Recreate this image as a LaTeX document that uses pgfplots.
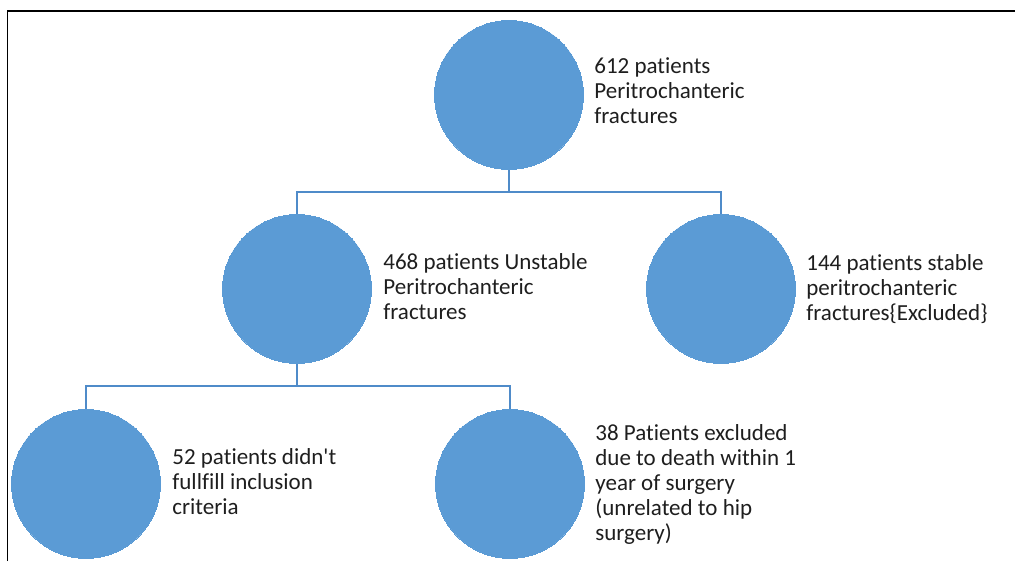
\documentclass[border=0pt]{standalone}
\usepackage{fontspec}
\setmainfont{Carlito}[Ligatures={NoCommon}]
\usepackage{pgfplots}
\pgfplotsset{compat=1.18}
\definecolor{circ}{HTML}{5B9BD5}
\definecolor{conn}{HTML}{4F8BC9}
\definecolor{txt}{HTML}{1E1E1E}
\begin{document}
\begin{tikzpicture}
\begin{axis}[scale only axis, width=507.5pt, height=280.5pt,
  xmin=0, xmax=1015, ymin=0, ymax=561, y dir=reverse, hide axis, clip=false]
% frame
\addplot[black, line width=0.75pt] coordinates {(7.5,561) (7.5,11) (1015,11)};
% connectors
\addplot[conn, line width=1pt] coordinates {(509,168) (509,192)};
\addplot[conn, line width=1pt] coordinates {(297,215) (297,192) (721,192) (721,215)};
\addplot[conn, line width=1pt] coordinates {(297,362) (297,386)};
\addplot[conn, line width=1pt] coordinates {(86,410) (86,386) (510,386) (510,410)};
% circles
\addplot[circ, only marks, mark=*, mark size=37.2pt, mark options={fill=circ, draw=circ, line width=0pt}]
  coordinates {(509,95) (297,289) (721,289) (86,484) (510,484)};
% texts
\tikzset{lbl/.style={anchor=base west, inner sep=0pt, text=txt, font=\fontsize{11.5}{13}\selectfont}}
\node[lbl] at (axis cs:594,74) {612 patients};
\node[lbl] at (axis cs:594,99) {Peritrochanteric};
\node[lbl] at (axis cs:594,124) {fractures};
\node[lbl] at (axis cs:383,269) {468 patients Unstable};
\node[lbl] at (axis cs:383,294) {Peritrochanteric};
\node[lbl] at (axis cs:383,319) {fractures};
\node[lbl] at (axis cs:806,270) {144 patients stable};
\node[lbl] at (axis cs:806,295) {peritrochanteric};
\node[lbl] at (axis cs:806,320) {fractures\{Excluded\}};
\node[lbl] at (axis cs:172,464) {52 patients didn\textquotesingle t};
\node[lbl] at (axis cs:172,489) {fullfill inclusion};
\node[lbl] at (axis cs:172,514) {criteria};
\node[lbl] at (axis cs:595,440) {38 Patients excluded};
\node[lbl] at (axis cs:595,465) {due to death within 1};
\node[lbl] at (axis cs:595,490) {year of surgery};
\node[lbl] at (axis cs:595,515) {(unrelated to hip};
\node[lbl] at (axis cs:595,540) {surgery)};
\end{axis}
\pgfresetboundingbox
\path (current axis.south west) rectangle (current axis.north east);
\end{tikzpicture}
\end{document}
